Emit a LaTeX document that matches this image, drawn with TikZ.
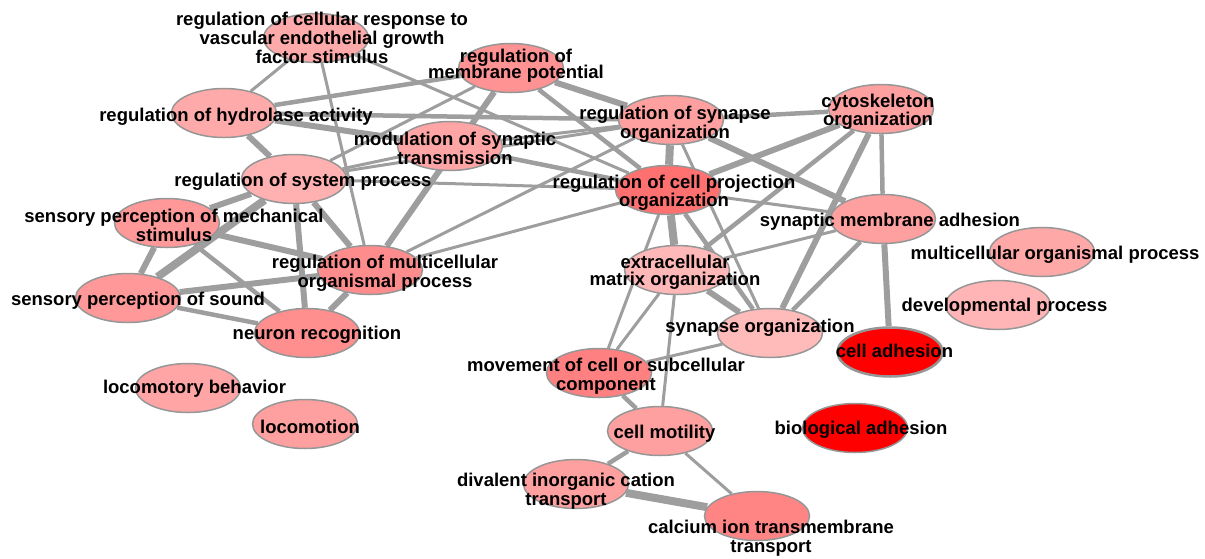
\documentclass[tikz,border=0pt]{standalone}
\usepackage{fontspec}
\setmainfont{Liberation Sans}
\usetikzlibrary{shapes.geometric,backgrounds}
\definecolor{edgec}{RGB}{158,158,158}
\definecolor{nodeb}{RGB}{150,150,150}
\tikzset{
  term/.style={ellipse, draw=nodeb, line width=1.5pt, minimum width=105pt, minimum height=49pt, inner sep=0pt},
  lbl/.style={font=\fontsize{18.5}{19}\selectfont\bfseries, align=center, inner sep=0pt, text=black, yshift=-2pt},
  ea/.style={draw=edgec, line width=3pt},
  eb/.style={draw=edgec, line width=4.5pt},
  ec/.style={draw=edgec, line width=6pt},
  ed/.style={draw=edgec, line width=8pt},
}
\begin{document}
\begin{tikzpicture}[x=1pt,y=-1pt]
\useasboundingbox (0,0) rectangle (1205,558);
% ellipses
\node[term, fill={rgb,255:red,255;green,170;blue,170}] (A) at (316,38) {};
\node[term, fill={rgb,255:red,255;green,146;blue,146}] (B) at (511,68) {};
\node[term, fill={rgb,255:red,255;green,170;blue,170}] (C) at (224,113) {};
\node[term, fill={rgb,255:red,255;green,165;blue,165}] (D) at (450,146) {};
\node[term, fill={rgb,255:red,255;green,160;blue,160}] (E) at (671,120) {};
\node[term, fill={rgb,255:red,255;green,160;blue,160}] (F) at (881,109) {};
\node[term, fill={rgb,255:red,255;green,176;blue,176}] (G) at (294,179) {};
\node[term, fill={rgb,255:red,255;green,112;blue,112}] (H) at (668,190) {};
\node[term, fill={rgb,255:red,255;green,152;blue,152}] (I) at (167,223) {};
\node[term, fill={rgb,255:red,255;green,160;blue,160}] (J) at (883,219) {};
\node[term, fill={rgb,255:red,255;green,168;blue,168}] (K) at (1042,252) {};
\node[term, fill={rgb,255:red,255;green,184;blue,184}] (L) at (677,270) {};
\node[term, fill={rgb,255:red,255;green,140;blue,140}] (M) at (370,270) {};
\node[term, fill={rgb,255:red,255;green,152;blue,152}] (N) at (128,298) {};
\node[term, fill={rgb,255:red,255;green,181;blue,181}] (O) at (998,305) {};
\node[term, fill={rgb,255:red,255;green,186;blue,186}] (P) at (770,333) {};
\node[term, fill={rgb,255:red,255;green,142;blue,142}] (Q) at (307,333) {};
\node[term, fill={rgb,255:red,255;green,0;blue,0}, line width=2.5pt] (R) at (890,352) {};
\node[term, fill={rgb,255:red,255;green,128;blue,128}] (S) at (599,373) {};
\node[term, fill={rgb,255:red,255;green,165;blue,165}] (T) at (188,388) {};
\node[term, fill={rgb,255:red,255;green,160;blue,160}] (U) at (305,424) {};
\node[term, fill={rgb,255:red,255;green,0;blue,0}] (V) at (855,428) {};
\node[term, fill={rgb,255:red,255;green,160;blue,160}] (W) at (660,431) {};
\node[term, fill={rgb,255:red,255;green,160;blue,160}] (X) at (576,484) {};
\node[term, fill={rgb,255:red,255;green,133;blue,133}] (Y) at (757,516) {};
% edges
\begin{pgfonlayer}{background}
\draw[ea] (A) -- (C);
\draw[ea] (A) -- (H);
\draw[ea] (A) -- (M);
\draw[eb] (C) -- (B);
\draw[eb] (C) -- (E);
\draw[ec] (C) -- (D);
\draw[ec] (C) -- (G);
\draw[ea] (G) -- (B);
\draw[ea] (G) -- (E);
\draw[ea] (G) -- (D);
\draw[ea] (G) -- (H);
\draw[ec] (G) -- (I);
\draw[ed] (G) -- (N);
\draw[ec] (G) -- (Q);
\draw[ec] (G) -- (M);
\draw[ec] (I) -- (N);
\draw[ec] (I) -- (M);
\draw[eb] (I) -- (Q);
\draw[ec] (N) -- (M);
\draw[eb] (N) -- (Q);
\draw[ec] (Q) -- (M);
\draw[ec] (M) -- (B);
\draw[ea] (M) -- (H);
\draw[ea] (M) -- (E);
\draw[ea] (D) -- (E);
\draw[eb] (D) -- (H);
\draw[ec] (B) -- (E);
\draw[eb] (B) -- (H);
\draw[eb] (E) -- (F);
\draw[ed] (E) -- (H);
\draw[ea] (E) -- (P);
\draw[ec] (E) -- (J);
\draw[ec] (H) -- (F);
\draw[ea] (H) -- (J);
\draw[ed] (H) -- (L);
\draw[ea] (H) -- (S);
\draw[eb] (H) -- (P);
\draw[ea] (L) -- (J);
\draw[eb] (L) -- (F);
\draw[ec] (L) -- (P);
\draw[ea] (L) -- (S);
\draw[ea] (L) -- (W);
\draw[eb] (J) -- (F);
\draw[ec] (J) -- (R);
\draw[eb] (J) -- (P);
\draw[ec] (F) -- (P);
\draw[ea] (S) -- (P);
\draw[eb] (S) -- (W);
\draw[eb] (W) -- (X);
\draw[ea] (W) -- (Y);
\draw[ed] (X) -- (Y);
\end{pgfonlayer}
% labels
\node[lbl] (tA) at (322,36) {regulation of cellular response to\\vascular endothelial growth\\factor stimulus};
\node[lbl] (tB) at (516,63.5) {regulation of\\[-2.5pt]membrane potential};
\node[lbl] (tC) at (236,115) {regulation of hydrolase activity};
\node[lbl] (tD) at (455,146.5) {modulation of synaptic\\transmission};
\node[lbl] (tE) at (675,122.5) {regulation of synapse\\organization};
\node[lbl] (tF) at (878,110) {cytoskeleton\\[-1pt]organization};
\node[lbl] (tG) at (303,180) {regulation of system process};
\node[lbl] (tH) at (674,191) {regulation of cell projection\\[-1pt]organization};
\node[lbl] (tI) at (174,223.5) {sensory perception of mechanical\\stimulus};
\node[lbl] (tJ) at (890,220) {synaptic membrane adhesion};
\node[lbl] (tK) at (1055,253) {multicellular organismal process};
\node[lbl] (tL) at (675,270) {extracellular\\[-2pt]matrix organization};
\node[lbl] (tM) at (385,271.5) {regulation of multicellular\\organismal process};
\node[lbl] (tN) at (138,299) {sensory perception of sound};
\node[lbl] (tO) at (1004.5,305) {developmental process};
\node[lbl] (tP) at (760,326) {synapse organization};
\node[lbl] (tQ) at (317,333) {neuron recognition};
\node[lbl] (tR) at (894.5,349) {cell adhesion};
\node[lbl] (tS) at (606,374) {movement of cell or subcellular\\component};
\node[lbl] (tT) at (194.5,387) {locomotory behavior};
\node[lbl] (tU) at (310,425) {locomotion};
\node[lbl] (tV) at (861,428) {biological adhesion};
\node[lbl] (tW) at (664.5,432) {cell motility};
\node[lbl] (tX) at (566,489) {divalent inorganic cation\\transport};
\node[lbl] (tY) at (771,536.5) {calcium ion transmembrane\\transport};
\end{tikzpicture}
\end{document}
